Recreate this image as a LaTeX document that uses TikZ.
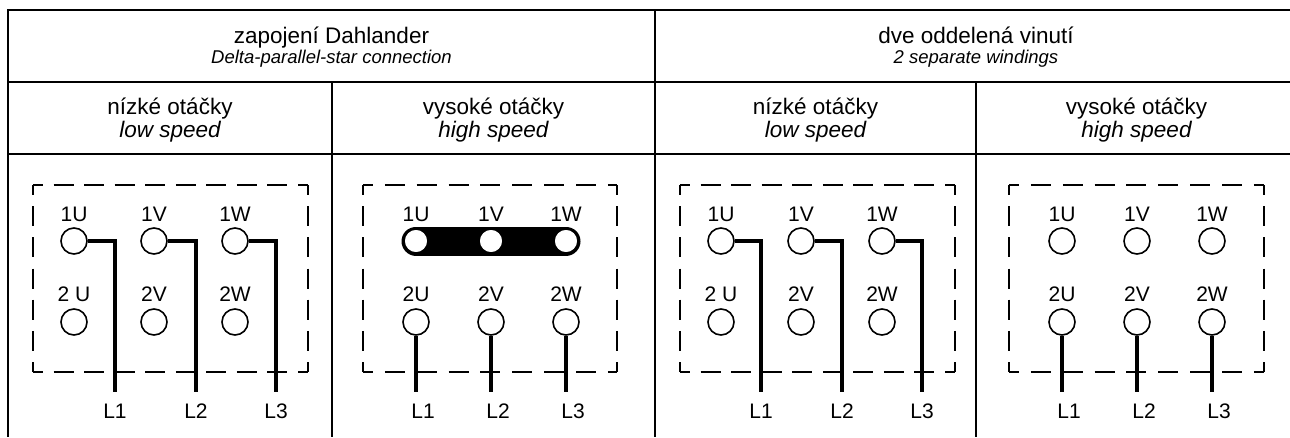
\documentclass[tikz,border=0pt]{standalone}
\usepackage{fontspec}
\setmainfont{Liberation Sans}
\usetikzlibrary{backgrounds}
\tikzset{
  tbl/.style={line width=1.8pt},
  dside/.style={line width=1.3pt, dash pattern=on 20pt off #1, dash phase=10pt},
  term/.style={circle, draw, line width=1.6pt, minimum size=26pt, inner sep=0pt, fill=white},
  bterm/.style={circle, draw, line width=1.6pt, minimum size=24pt, inner sep=0pt, fill=white},
  wire/.style={line width=3.6pt},
  barstyle/.style={line width=29pt, line cap=round},
  lbl/.style={anchor=base, inner sep=0pt, font=\fontsize{21}{24}\selectfont},
  hdr/.style={anchor=base, inner sep=0pt, font=\fontsize{22.5}{26}\selectfont},
  subA/.style={anchor=base, inner sep=0pt, font=\fontsize{18.5}{22}\selectfont\itshape},
  subB/.style={anchor=base, inner sep=0pt, font=\fontsize{22.5}{26}\selectfont\itshape},
}
\newcommand\mydbox[5]{%
  \draw[dside=#5] (#1,#2) -- (#3,#2);
  \draw[dside=#5] (#1,#4) -- (#3,#4);
  \draw[dside=11.17pt] (#1,#2) -- (#1,#4);
  \draw[dside=11.17pt] (#3,#2) -- (#3,#4);}
\begin{document}
\begin{tikzpicture}[x=1pt,y=-1pt]
\useasboundingbox (0,0) rectangle (1290,437);
% table
\draw[tbl] (1290,10) -- (8,10) -- (8,437);
\draw[tbl] (8,82) -- (1290,82);
\draw[tbl] (8,154) -- (1290,154);
\draw[tbl] (655,10) -- (655,437);
\draw[tbl] (332,82) -- (332,437);
\draw[tbl] (976,82) -- (976,437);
% headers
\node[hdr] (h1) at (331.5,43) {zapojení Dahlander};
\node[subA] (h1s) at (331.5,63) {Delta-parallel-star connection};
\node[hdr] (h2) at (976,43) {dve oddelená vinutí};
\node[subA] (h2s) at (976,63) {2 separate windings};
\node[hdr] (c1h) at (170,114) {nízké otáčky};
\node[subB] (c1s) at (170,137) {low speed};
\node[hdr] (c2h) at (493.5,114) {vysoké otáčky};
\node[subB] (c2s) at (493.5,137) {high speed};
\node[hdr] (c3h) at (815.5,114) {nízké otáčky};
\node[subB] (c3s) at (815.5,137) {low speed};
\node[hdr] (c4h) at (1136.5,114) {vysoké otáčky};
\node[subB] (c4s) at (1136.5,137) {high speed};
% dashed boxes
\mydbox{33}{185}{308}{372}{10.56pt}
\mydbox{363}{185}{617}{372}{11.87pt}
\mydbox{680}{185}{955}{372}{10.56pt}
\mydbox{1009}{185}{1264}{372}{11.87pt}
% ---- column 1
\node[term] (a1U) at (74,241) {};
\node[term] (a1V) at (154,241) {};
\node[term] (a1W) at (235,241) {};
\node[term] (a2U) at (74,322) {};
\node[term] (a2V) at (154,322) {};
\node[term] (a2W) at (235,322) {};
\node[lbl] (a1Ut) at (74,221) {1U};
\node[lbl] (a1Vt) at (154,221) {1V};
\node[lbl] (a1Wt) at (235,221) {1W};
\node[lbl] (a2Ut) at (74,301) {2 U};
\node[lbl] (a2Vt) at (154,301) {2V};
\node[lbl] (a2Wt) at (235,301) {2W};
\coordinate (aE1) at (115,392);
\coordinate (aE2) at (196,392);
\coordinate (aE3) at (276,392);
\draw[wire] (a1U.east) -| (aE1);
\draw[wire] (a1V.east) -| (aE2);
\draw[wire] (a1W.east) -| (aE3);
\node[lbl] (aL1) at (115,418) {L1};
\node[lbl] (aL2) at (196,418) {L2};
\node[lbl] (aL3) at (276,418) {L3};
% ---- column 2
\node[bterm] (b1U) at (416,241) {};
\node[bterm] (b1V) at (491,241) {};
\node[bterm] (b1W) at (566,241) {};
\begin{pgfonlayer}{background}
\draw[barstyle] (b1U.center) -- (b1W.center);
\end{pgfonlayer}
\node[term] (b2U) at (416,322) {};
\node[term] (b2V) at (491,322) {};
\node[term] (b2W) at (566,322) {};
\node[lbl] (b1Ut) at (416,221) {1U};
\node[lbl] (b1Vt) at (491,221) {1V};
\node[lbl] (b1Wt) at (566,221) {1W};
\node[lbl] (b2Ut) at (416,301) {2U};
\node[lbl] (b2Vt) at (491,301) {2V};
\node[lbl] (b2Wt) at (566,301) {2W};
\coordinate (bE1) at (416,392);
\coordinate (bE2) at (491,392);
\coordinate (bE3) at (566,392);
\draw[wire] (b2U.south) -- (bE1);
\draw[wire] (b2V.south) -- (bE2);
\draw[wire] (b2W.south) -- (bE3);
\node[lbl] (bL1) at (423,418) {L1};
\node[lbl] (bL2) at (498,418) {L2};
\node[lbl] (bL3) at (573,418) {L3};
% ---- column 3
\node[term] (c1U) at (721,241) {};
\node[term] (c1V) at (801,241) {};
\node[term] (c1W) at (882,241) {};
\node[term] (c2U) at (721,322) {};
\node[term] (c2V) at (801,322) {};
\node[term] (c2W) at (882,322) {};
\node[lbl] (c1Ut) at (721,221) {1U};
\node[lbl] (c1Vt) at (801,221) {1V};
\node[lbl] (c1Wt) at (882,221) {1W};
\node[lbl] (c2Ut) at (721,301) {2 U};
\node[lbl] (c2Vt) at (801,301) {2V};
\node[lbl] (c2Wt) at (882,301) {2W};
\coordinate (cE1) at (761,392);
\coordinate (cE2) at (842,392);
\coordinate (cE3) at (922,392);
\draw[wire] (c1U.east) -| (cE1);
\draw[wire] (c1V.east) -| (cE2);
\draw[wire] (c1W.east) -| (cE3);
\node[lbl] (cL1) at (761,418) {L1};
\node[lbl] (cL2) at (842,418) {L2};
\node[lbl] (cL3) at (922,418) {L3};
% ---- column 4
\node[term] (d1U) at (1062,241) {};
\node[term] (d1V) at (1137,241) {};
\node[term] (d1W) at (1212,241) {};
\node[term] (d2U) at (1062,322) {};
\node[term] (d2V) at (1137,322) {};
\node[term] (d2W) at (1212,322) {};
\node[lbl] (d1Ut) at (1062,221) {1U};
\node[lbl] (d1Vt) at (1137,221) {1V};
\node[lbl] (d1Wt) at (1212,221) {1W};
\node[lbl] (d2Ut) at (1062,301) {2U};
\node[lbl] (d2Vt) at (1137,301) {2V};
\node[lbl] (d2Wt) at (1212,301) {2W};
\coordinate (dE1) at (1062,392);
\coordinate (dE2) at (1137,392);
\coordinate (dE3) at (1212,392);
\draw[wire] (d2U.south) -- (dE1);
\draw[wire] (d2V.south) -- (dE2);
\draw[wire] (d2W.south) -- (dE3);
\node[lbl] (dL1) at (1069,418) {L1};
\node[lbl] (dL2) at (1144,418) {L2};
\node[lbl] (dL3) at (1219,418) {L3};
\end{tikzpicture}
\end{document}
